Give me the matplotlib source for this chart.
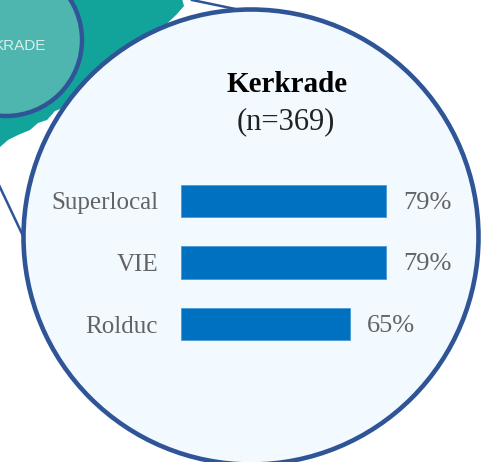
import matplotlib.pyplot as plt
from matplotlib.patches import Circle, Polygon

# Data
sites = ['Superlocal', 'VIE', 'Rolduc']
percent = [79, 79, 65]
title = 'Kerkrade'
subtitle = '(n=369)'

navy = '#2f5597'
teal = '#12a39b'
bar_col = '#0070c0'
grey = '#636363'

plt.rcParams['font.family'] = ['Liberation Serif', 'DejaVu Serif']

W, H = 487, 462
fig = plt.figure(figsize=(W / 100, H / 100), dpi=100, facecolor='white')

# background in pixel coords
bg = fig.add_axes([0, 0, 1, 1])
bg.set_xlim(0, W)
bg.set_ylim(H, 0)
bg.axis('off')

# teal region behind the circles, torn edge along the bottom
blob = Polygon([(-5, -5), (181, -5), (184, 6), (177, 14), (150, 40), (70, 105), (55, 111),
                (47, 120), (38, 123), (30, 130), (18, 135), (8, 140), (0, 147), (-5, 150)],
               closed=True, facecolor=teal, edgecolor='none', zorder=1)
bg.add_patch(blob)
bg.add_patch(Circle((6, 40), 76, facecolor='#4eb6ae', edgecolor=navy, lw=3.2, zorder=2))
# K is cut by the left edge in the reference too
bg.text(46, 46, 'KRADE', color='#d5efec', fontsize=11, family='Liberation Sans',
        ha='right', va='center', zorder=3)

# connector lines to the big circle
bg.plot([192, 245], [0, 11], color=navy, lw=1.8, zorder=2)
bg.plot([-2, 24], [183, 238], color=navy, lw=1.8, zorder=2)
bg.add_patch(Circle((337, -40), 40, facecolor='#a6b6d6', edgecolor='none', zorder=1))

bg.add_patch(Circle((251, 237), 227.5, facecolor='#f2f9ff', edgecolor=navy, lw=3.3, zorder=4))

bg.text(287, 85, title, fontsize=21, fontweight='bold', color='black',
        ha='center', va='center', zorder=5)
bg.text(286, 122, subtitle, fontsize=22, color='#222222', ha='center', va='center', zorder=5)

# bars
ax = fig.add_axes([181 / W, 1 - 355 / H, 260 / W, 185 / H], zorder=6)
ax.patch.set_alpha(0)
y = range(len(sites))
bars = ax.barh(y, percent, height=0.52, color=bar_col, edgecolor='#4a9ad6', linewidth=0.6)
ax.set_xlim(0, 100)
ax.set_ylim(2.5, -0.5)
ax.set_yticks(list(y), sites, fontsize=18, color=grey)
ax.set_xticks([])
ax.tick_params(axis='y', length=0, pad=16.5)
for s in ax.spines.values():
    s.set_visible(False)
for b, p in zip(bars, percent):
    ax.annotate(f'{p}%', (p, b.get_y() + b.get_height() / 2), xytext=(17, -2),
                textcoords='offset pixels', fontsize=19, color=grey, va='center')

fig.savefig('out.png', dpi=100)
